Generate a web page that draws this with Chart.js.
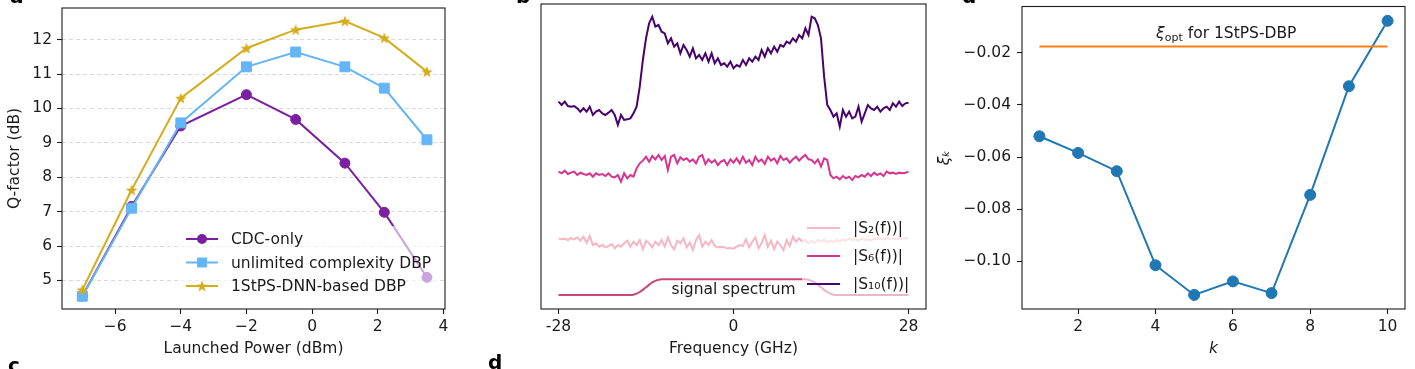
<!DOCTYPE html>
<html>
<head>
<meta charset="utf-8">
<title>Q-factor, spectra and xi_k</title>
<script src="https://cdn.jsdelivr.net/npm/chart.js@4/dist/chart.umd.min.js"></script>
<style>
    html, body { margin: 0; padding: 0; background: #fff; }
    #page { position: relative; width: 1415px; height: 369px; overflow: hidden; background: #fff; }
    #page canvas { position: absolute; top: 0; }
    .panel-tag { position: absolute; font: bold 20px/20px "DejaVu Sans", sans-serif; color: #000; }
</style>
</head>
<body>
<div id="page">
    <canvas id="chart-power" width="470" height="369" style="left:0"></canvas>
    <canvas id="chart-spectrum" width="480" height="369" style="left:470px"></canvas>
    <canvas id="chart-xi" width="480" height="369" style="left:935px"></canvas>
    <div class="panel-tag" style="left:10px;top:-14px">a</div>
    <div class="panel-tag" style="left:516px;top:-14px">b</div>
    <div class="panel-tag" style="left:962px;top:-14px">d</div>
    <div class="panel-tag" style="left:8px;top:355px">c</div>
    <div class="panel-tag" style="left:488px;top:352px">d</div>
</div>
<script>
// panel a: Q-factor against launched power
var launchPower = [-7, -5.5, -4, -2, -0.5, 1, 2.2, 3.5];
var qCdcOnly = [4.55, 7.15, 9.49, 10.4, 9.68, 8.41, 6.98, 5.09];
var qUnlimitedDbp = [4.54, 7.1, 9.58, 11.21, 11.64, 11.21, 10.59, 9.09];
var qDnnDbp = [4.73, 7.63, 10.3, 11.75, 12.29, 12.54, 12.05, 11.07];

// panel b: spectra, sampled every 0.5 GHz from -28 GHz
var freqStart = -28;
var freqStep = 0.5;
var spectrumS10 = [
    6.25, 6.15, 6.25, 6.12, 6.10, 6.12, 6.05, 5.95, 6.05, 5.95,
    6.10, 5.85, 5.95, 6.00, 5.90, 5.85, 5.92, 6.00, 5.85, 5.55,
    5.85, 5.70, 5.72, 5.75, 5.90, 6.10, 6.70, 7.50, 8.15, 8.60,
    8.80, 8.50, 8.55, 8.35, 8.30, 8.00, 8.15, 7.90, 8.00, 7.70,
    7.95, 7.80, 7.60, 7.85, 7.55, 7.65, 7.50, 7.70, 7.45, 7.70,
    7.40, 7.55, 7.35, 7.40, 7.30, 7.45, 7.25, 7.35, 7.30, 7.50,
    7.35, 7.55, 7.45, 7.60, 7.50, 7.80, 7.60, 7.85, 7.70, 7.90,
    7.75, 7.95, 7.90, 8.05, 8.00, 8.15, 8.05, 8.25, 8.15, 8.45,
    8.25, 8.80, 8.75, 8.55, 8.15, 7.00, 6.15, 6.00, 5.80, 5.90,
    5.50, 6.00, 5.80, 5.95, 5.75, 5.80, 6.10, 5.65, 5.90, 6.15,
    6.05, 6.00, 6.10, 5.95, 6.05, 6.10, 6.00, 6.20, 6.10, 6.25,
    6.12, 6.20, 6.22
];
var spectrumS6 = [
    4.15, 4.10, 4.18, 4.08, 4.12, 4.15, 4.05, 4.12, 4.08, 4.05,
    4.10, 4.00, 4.10, 4.05, 4.08, 4.02, 4.10, 4.00, 3.98, 4.05,
    3.85, 4.10, 3.95, 4.05, 4.00, 4.25, 4.40, 4.48, 4.60, 4.45,
    4.62, 4.52, 4.65, 4.50, 4.62, 4.20, 4.60, 4.65, 4.40, 4.58,
    4.50, 4.55, 4.45, 4.52, 4.40, 4.60, 4.65, 4.38, 4.52, 4.42,
    4.50, 4.35, 4.45, 4.50, 4.35, 4.52, 4.42, 4.55, 4.40, 4.60,
    4.42, 4.50, 4.35, 4.60, 4.45, 4.52, 4.38, 4.60, 4.48, 4.55,
    4.40, 4.62, 4.50, 4.55, 4.42, 4.52, 4.60, 4.48, 4.58, 4.65,
    4.52, 4.50, 4.40, 4.52, 4.30, 4.55, 4.50, 4.05, 3.95, 4.00,
    3.92, 4.02, 3.95, 4.00, 3.90, 4.02, 3.98, 4.05, 4.00, 4.10,
    4.02, 4.12, 4.05, 4.10, 4.02, 4.15, 4.10, 4.12, 4.08, 4.12,
    4.10, 4.12, 4.15
];
var spectrumS2 = [
    2.15, 2.12, 2.14, 2.10, 2.16, 2.12, 2.18, 2.08, 2.20, 2.02,
    2.22, 1.95, 2.00, 1.90, 1.95, 1.88, 1.92, 1.98, 1.85, 1.95,
    1.90, 2.00, 2.08, 1.90, 2.05, 1.95, 2.10, 1.82, 2.08, 2.00,
    1.88, 2.05, 1.95, 2.10, 1.90, 2.18, 1.95, 1.82, 2.08, 2.00,
    2.15, 1.88, 2.02, 1.80, 2.10, 2.25, 1.90, 2.05, 1.95, 2.10,
    1.92, 1.88, 1.90, 1.88, 1.85, 1.86, 1.84, 1.90, 1.95, 1.92,
    2.12, 1.88, 2.05, 2.18, 1.85, 2.00, 2.25, 1.90, 2.08, 1.82,
    2.05, 1.95, 1.80, 2.10, 1.92, 2.20, 2.05, 2.15, 2.05, 2.10,
    2.00, 2.08, 2.02, 2.10, 2.05, 2.12, 2.02, 2.08, 2.04, 2.10,
    2.06, 2.12, 2.08, 2.14, 2.10, 2.12, 2.08, 2.14, 2.10, 2.12,
    2.08, 2.14, 2.12, 2.15, 2.12, 2.16, 2.13, 2.15, 2.12, 2.15,
    2.14, 2.16, 2.15
];
var signalFreq = [-28, -16.5, -16, -15, -14, -13, -12, -11.5, 11.5, 12, 13, 14, 15, 16, 16.5, 28];
var signalLevel = [0.45, 0.45, 0.46, 0.54, 0.68, 0.83, 0.91, 0.92, 0.92, 0.91, 0.83, 0.68, 0.54, 0.46, 0.45, 0.45];

// panel d: xi_k against k
var kIndex = [1, 2, 3, 4, 5, 6, 7, 8, 9, 10];
var xiK = [-0.0520, -0.0584, -0.0654, -0.1015, -0.1129, -0.1077, -0.1122, -0.0745, -0.0328, -0.0077];
var xiOpt = -0.0176;

(function () {
    var FONT = 'DejaVu Sans';
    var SIZE = 15.5;
    var INK = '#1a1a1a';

    Chart.defaults.font.family = FONT;
    Chart.defaults.font.size = SIZE;
    Chart.defaults.color = INK;
    Chart.defaults.animation = false;
    Chart.defaults.plugins.legend.display = false;
    Chart.defaults.plugins.tooltip.enabled = false;

    var toPoints = function (xs, ys) {
        var out = [];
        for (var i = 0; i < xs.length; ++i) {
            out.push({ x: xs[i], y: ys[i] });
        }
        return out;
    };

    var sampled = function (ys) {
        var out = [];
        for (var i = 0; i < ys.length; ++i) {
            out.push({ x: freqStart + i * freqStep, y: ys[i] });
        }
        return out;
    };

    var minus = function (text) {
        return String(text).replace('-', '\u2212');
    };

    var fixWidth = function (w) {
        return function (scale) { scale.width = w; scale.paddingTop = 0; scale.paddingBottom = 0; };
    };

    var fixHeight = function (h) {
        return function (scale) { scale.height = h; scale.paddingLeft = 0; scale.paddingRight = 0; };
    };

    var starImage = function (color, size) {
        var c = document.createElement('canvas');
        c.width = size;
        c.height = size;
        var g = c.getContext('2d');
        var ro = size / 2, ri = ro * 0.42;
        g.beginPath();
        for (var i = 0; i < 10; ++i) {
            var r = (i % 2) ? ri : ro;
            var ang = -Math.PI / 2 + i * Math.PI / 5;
            g.lineTo(ro + r * Math.cos(ang), ro + 0.6 + r * Math.sin(ang));
        }
        g.closePath();
        g.fillStyle = color;
        g.fill();
        return c;
    };

    var bottomAxis = function (min, max, step, title, format, italic) {
        return {
            type: 'linear', position: 'bottom', min: min, max: max,
            afterFit: fixHeight(60),
            border: { display: false },
            grid: { drawOnChartArea: false, tickLength: 5, tickColor: INK, tickWidth: 1.1 },
            ticks: { stepSize: step, includeBounds: false, padding: 4, maxRotation: 0, autoSkip: false, color: INK, callback: format },
            title: { display: true, text: title, color: INK, font: { style: italic ? 'italic' : 'normal' }, padding: { top: 0, bottom: 11 } }
        };
    };

    var framePlugin = {
        id: 'frame',
        afterDatasetsDraw: function (chart) {
            var a = chart.chartArea, ctx = chart.ctx;
            ctx.save();
            ctx.strokeStyle = INK;
            ctx.lineWidth = 1.1;
            ctx.strokeRect(a.left, a.top, a.right - a.left, a.bottom - a.top);
            ctx.restore();
        }
    };

    var drawMarker = function (ctx, ds, x, y) {
        var style = ds.pointStyle;
        if (!style) {
            return;
        }
        if (typeof style !== 'string') {
            ctx.drawImage(style, x - style.width / 2, y - style.height / 2);
            return;
        }
        ctx.beginPath();
        if (style === 'rect') {
            var s = ds.pointRadius * Math.SQRT1_2;
            ctx.rect(x - s, y - s, 2 * s, 2 * s);
        } else {
            ctx.arc(x, y, ds.pointRadius, 0, Math.PI * 2);
        }
        ctx.fill();
    };

    // legend with a see-through white box, like matplotlib's framealpha
    var boxLegend = function (spec) {
        return {
            id: 'boxLegend',
            afterDraw: function (chart) {
                var ctx = chart.ctx, a = chart.chartArea;
                var left = a.right - spec.right - spec.width;
                var top = a.bottom - spec.bottom - spec.height;
                ctx.save();
                ctx.fillStyle = 'rgba(255,255,255,0.6)';
                ctx.fillRect(left, top, spec.width, spec.height);
                ctx.font = SIZE + 'px "' + FONT + '"';
                ctx.textBaseline = 'middle';
                ctx.textAlign = 'left';
                for (var i = 0; i < spec.items.length; ++i) {
                    var ds = chart.data.datasets[spec.items[i]];
                    var y = top + spec.first + i * spec.gap;
                    ctx.strokeStyle = ds.borderColor;
                    ctx.lineWidth = 2;
                    ctx.beginPath();
                    ctx.moveTo(left + spec.lineFrom, y);
                    ctx.lineTo(left + spec.lineTo, y);
                    ctx.stroke();
                    ctx.fillStyle = ds.backgroundColor;
                    if (ds.pointRadius || typeof ds.pointStyle !== 'string') {
                        drawMarker(ctx, ds, left + (spec.lineFrom + spec.lineTo) / 2, y);
                    }
                    ctx.fillStyle = INK;
                    ctx.fillText(ds.label, left + spec.textAt, y + 1);
                }
                ctx.restore();
            }
        };
    };

    // ---- panel a ----
    var purple = '#7b1fa2';
    var skyBlue = '#64b5f6';
    var gold = '#d4ad1c';

    new Chart(document.getElementById('chart-power'), {
        type: 'line',
        data: {
            datasets: [
                { label: 'CDC-only', data: toPoints(launchPower, qCdcOnly), borderColor: purple, backgroundColor: purple,
                  pointStyle: 'circle', pointRadius: 5, pointBorderWidth: 1, borderWidth: 2, order: 3 },
                { label: 'unlimited complexity DBP', data: toPoints(launchPower, qUnlimitedDbp), borderColor: skyBlue, backgroundColor: skyBlue,
                  pointStyle: 'rect', pointRadius: 7, pointBorderWidth: 1, borderWidth: 2, order: 2 },
                { label: '1StPS-DNN-based DBP', data: toPoints(launchPower, qDnnDbp), borderColor: gold, backgroundColor: gold,
                  pointStyle: starImage(gold, 12), pointRadius: 6, borderWidth: 2, order: 1 }
            ]
        },
        options: {
            responsive: false,
            devicePixelRatio: 1,
            layout: { padding: { left: 0, right: 25, top: 4, bottom: 0 } },
            scales: {
                x: bottomAxis(-7.62, 4.05, 2, 'Launched Power (dBm)', function (v) { return minus(v); }),
                y: {
                    type: 'linear', min: 4.17, max: 12.92,
                    afterFit: fixWidth(62),
                    border: { display: false, dash: [4, 3] },
                    grid: { color: '#cfcfcf', lineWidth: 0.8, tickLength: 5, tickColor: INK, tickWidth: 1.1 },
                    ticks: { stepSize: 1, includeBounds: false, padding: 5, color: INK, callback: function (v) { return minus(v); } },
                    title: { display: true, text: 'Q-factor (dB)', color: INK, padding: { top: 6, bottom: 0 } }
                }
            }
        },
        plugins: [framePlugin, boxLegend({ items: [0, 1, 2], right: 6, bottom: 11, width: 260, height: 72,
                                           first: 13, gap: 23.5, lineFrom: 7, lineTo: 39, textAt: 52 })]
    });

    // ---- panel b ----
    var captionB = {
        id: 'caption',
        afterDatasetsDraw: function (chart) {
            var ctx = chart.ctx;
            ctx.save();
            ctx.font = SIZE + 'px "' + FONT + '"';
            ctx.fillStyle = INK;
            ctx.textAlign = 'center';
            ctx.textBaseline = 'middle';
            ctx.fillText('signal spectrum', chart.scales.x.getPixelForValue(0), chart.scales.y.getPixelForValue(0.6));
            ctx.restore();
        }
    };

    new Chart(document.getElementById('chart-spectrum'), {
        type: 'line',
        data: {
            datasets: [
                { label: '|S\u2082(f))|', data: sampled(spectrumS2), borderColor: '#f6b7c3', backgroundColor: '#f6b7c3', borderWidth: 2, pointRadius: 0 },
                { label: '|S\u2086(f))|', data: sampled(spectrumS6), borderColor: '#d7348f', backgroundColor: '#d7348f', borderWidth: 2, pointRadius: 0 },
                { label: '|S\u2081\u2080(f))|', data: sampled(spectrumS10), borderColor: '#46036d', backgroundColor: '#46036d', borderWidth: 2, pointRadius: 0 },
                { label: 'signal spectrum', data: toPoints(signalFreq, signalLevel), borderColor: '#c94676', backgroundColor: '#c94676',
                  borderWidth: 2, pointRadius: 0, cubicInterpolationMode: 'monotone' }
            ]
        },
        options: {
            responsive: false,
            devicePixelRatio: 1,
            layout: { padding: { left: 71, right: 24, top: 4, bottom: 0 } },
            scales: {
                x: bottomAxis(-30.8, 30.8, 28, 'Frequency (GHz)', function (v) { return String(v); }),
                y: { type: 'linear', display: false, min: 0.03, max: 9.18 }
            }
        },
        plugins: [framePlugin, captionB, boxLegend({ items: [0, 1, 2], right: 6, bottom: 9, width: 118, height: 85,
                                                     first: 13, gap: 28, lineFrom: 5, lineTo: 38, textAt: 51 })]
    });

    // ---- panel d ----
    var captionC = {
        id: 'caption',
        afterDatasetsDraw: function (chart) {
            var ctx = chart.ctx;
            var big = SIZE + 'px "' + FONT + '"';
            var bigItalic = 'italic ' + SIZE + 'px "' + FONT + '"';
            var small = '11px "' + FONT + '"';
            var parts = [
                { text: '\u03be', font: bigItalic, dy: 0 },
                { text: 'opt', font: small, dy: 4 },
                { text: ' for 1StPS-DBP', font: big, dy: 0 }
            ];
            ctx.save();
            var total = 0;
            for (var i = 0; i < parts.length; ++i) {
                ctx.font = parts[i].font;
                parts[i].w = ctx.measureText(parts[i].text).width;
                total += parts[i].w;
            }
            var x = chart.scales.x.getPixelForValue(5.83) - total / 2;
            var y = chart.scales.y.getPixelForValue(-0.0129);
            ctx.fillStyle = INK;
            ctx.textAlign = 'left';
            ctx.textBaseline = 'middle';
            for (var j = 0; j < parts.length; ++j) {
                ctx.font = parts[j].font;
                ctx.fillText(parts[j].text, x, y + parts[j].dy);
                x += parts[j].w;
            }
            ctx.restore();
        }
    };

    var tabBlue = '#1f77b4';
    var tabOrange = '#ff7f0e';

    new Chart(document.getElementById('chart-xi'), {
        type: 'line',
        data: {
            datasets: [
                { label: 'xi_k', data: toPoints(kIndex, xiK), borderColor: tabBlue, backgroundColor: tabBlue,
                  pointRadius: 5.5, pointBorderWidth: 1, borderWidth: 2, order: 2 },
                { label: 'xi_opt', data: toPoints([kIndex[0], kIndex[kIndex.length - 1]], [xiOpt, xiOpt]),
                  borderColor: tabOrange, backgroundColor: tabOrange, pointRadius: 0, borderWidth: 2, order: 1 }
            ]
        },
        options: {
            responsive: false,
            devicePixelRatio: 1,
            layout: { padding: { left: 0, right: 10, top: 4, bottom: 0 } },
            scales: {
                x: bottomAxis(0.55, 10.45, 2, 'k', function (v) { return String(v); }, true),
                y: {
                    type: 'linear', min: -0.1183, max: -0.0022,
                    afterFit: fixWidth(87),
                    border: { display: false },
                    grid: { drawOnChartArea: false, tickLength: 5, tickColor: INK, tickWidth: 1.1 },
                    ticks: { stepSize: 0.02, includeBounds: false, padding: 6, color: INK, callback: function (v) { return minus(v.toFixed(2)); } },
                    title: { display: true, text: '\u03be\u2096', color: INK, font: { style: 'italic' }, padding: { top: 1, bottom: 0 } }
                }
            }
        },
        plugins: [framePlugin, captionC]
    });
})();
</script>
</body>
</html>
